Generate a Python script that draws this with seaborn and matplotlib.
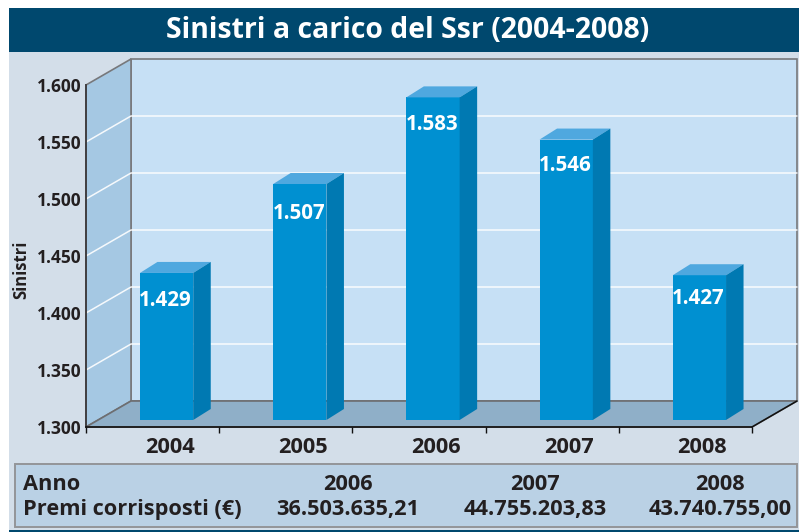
import pandas as pd
import seaborn as sns
import matplotlib.pyplot as plt
from matplotlib.patches import Polygon, Rectangle
from matplotlib.transforms import ScaledTranslation

# Data
anni = ["2004", "2005", "2006", "2007", "2008"]
sinistri = [1429, 1507, 1583, 1546, 1427]
etichette = ["1.429", "1.507", "1.583", "1.546", "1.427"]
y_ticks = [1300, 1350, 1400, 1450, 1500, 1550, 1600]
y_labels = ["1.300", "1.350", "1.400", "1.450", "1.500", "1.550", "1.600"]
tab_anni = ["2006", "2007", "2008"]
tab_premi = ["36.503.635,21", "44.755.203,83", "43.740.755,00"]

W, H = 799, 532
NAVY = "#00486e"
DARK = "#231f20"

sns.set_theme(style="white")
plt.rcParams["font.family"] = ["Open Sans", "DejaVu Sans"]
plt.rcParams["font.weight"] = "bold"

fig = plt.figure(figsize=(W / 100, H / 100), dpi=100, facecolor="white")


def axes_px(left, top, right, bottom):
    return fig.add_axes([left / W, 1 - bottom / H, (right - left) / W, (bottom - top) / H])


# background, panel and walls are drawn in pixel coordinates
bg = fig.add_axes([0, 0, 1, 1])
bg.set_xlim(0, W)
bg.set_ylim(H, 0)
bg.axis("off")
bg.add_patch(Rectangle((9, 8), W - 9, H - 8, fc="#d3dee9", ec="none"))
bg.add_patch(Rectangle((9, 8), W - 9, 44, fc=NAVY, ec="none"))
bg.add_patch(Rectangle((9, 530), W - 9, 2, fc=NAVY, ec="none"))
bg.text(408, 30, "Sinistri a carico del Ssr (2004-2008)", color="white", fontsize=20.4,
        ha="center", va="center", fontweight="bold")

X0, X1, Y0, Y1 = 86, 752, 427, 85
DX, DY = 45, -26
bg.add_patch(Polygon([(X0 + DX, Y1 + DY), (X1 + DX, Y1 + DY), (X1 + DX, Y0 + DY), (X0 + DX, Y0 + DY)],
                     fc="#c6e0f5", ec="#77787b", lw=1.2))
bg.add_patch(Polygon([(X0, Y1), (X0 + DX, Y1 + DY), (X0 + DX, Y0 + DY), (X0, Y0)],
                     fc="#a5c8e3", ec="#77787b", lw=1.2))
bg.add_patch(Polygon([(X0, Y0), (X0 + DX, Y0 + DY), (X1 + DX, Y0 + DY), (X1, Y0)],
                     fc="#8fafc8", ec="#6d6e71", lw=1.2))
bg.plot([X1, X1 + DX], [Y0, Y0 + DY], color="#111111", lw=1.1)

scala = (Y0 - Y1) / (y_ticks[-1] - y_ticks[0])
for v in y_ticks[1:-1]:
    yy = Y0 - (v - y_ticks[0]) * scala
    bg.plot([X0, X0 + DX, X1 + DX], [yy, yy + DY, yy + DY], color="white", lw=1.1, alpha=0.9)

# front plane with the axis lines and ticks
ax = axes_px(X0, Y1, X1, Y0)
ax.patch.set_alpha(0)
ax.set_ylim(y_ticks[0], y_ticks[-1])
ax.set_xlim(0, 5)
ax.set_yticks(y_ticks)
ax.set_yticklabels(y_labels, fontsize=12.5, color=DARK, fontweight="bold")
ax.set_xticks(range(6))
ax.set_xticklabels([])
ax.tick_params(axis="x", length=4.5, width=1, color="#111111", bottom=True)
ax.tick_params(axis="y", length=0, pad=3.5)
for side in ["top", "right"]:
    ax.spines[side].set_visible(False)
ax.spines["left"].set_color("#414042")
ax.spines["left"].set_linewidth(1.4)
ax.spines["bottom"].set_color("#111111")
ax.spines["bottom"].set_linewidth(1.2)

# bars stand halfway into the floor
df = pd.DataFrame({"anno": anni, "sinistri": sinistri})
ax_b = axes_px(X0 + 14, Y1 - 7, X1 + 14, Y0 - 7)
ax_b.patch.set_alpha(0)
sns.barplot(data=df, x="anno", y="sinistri", ax=ax_b, color="#0090d1", saturation=1, width=0.4,
            linewidth=0, edgecolor="none")
ax_b.set_ylim(y_ticks[0], y_ticks[-1])
ax_b.set_xlim(-0.5, 4.5)
ax_b.set_xlabel("")
ax_b.set_ylabel("")
ax_b.set_yticks([])
ax_b.tick_params(axis="x", length=0, pad=12, labelsize=15.7, labelcolor=DARK)
for side in ax_b.spines.values():
    side.set_visible(False)
shift = ScaledTranslation(3 / 100, 0, fig.dpi_scale_trans)
for lab in ax_b.get_xticklabels():
    lab.set_transform(lab.get_transform() + shift)
    lab.set_fontweight("bold")

# 3d faces of the bars, taken from the bar patches
bdx, bdy = 17.5, 11
cali = [28, 29, 27, 26, 23]
for bar, testo, cala in zip(ax_b.patches, etichette, cali):
    x0 = bar.get_x()
    x1 = x0 + bar.get_width()
    top = bar.get_height()
    p0 = ax_b.transData.transform((x0, top))
    p1 = ax_b.transData.transform((x1, top))
    p2 = ax_b.transData.transform((x1, y_ticks[0]))
    fig.add_artist(Polygon([p0, p1, (p1[0] + bdx, p1[1] + bdy), (p0[0] + bdx, p0[1] + bdy)],
                           transform=None, fc="#4fa8df", ec="none"))
    fig.add_artist(Polygon([p1, p2, (p2[0] + bdx, p2[1] + bdy), (p1[0] + bdx, p1[1] + bdy)],
                           transform=None, fc="#0079b2", ec="none"))
    ax_b.annotate(testo, (x0 + bar.get_width() / 2, top), xytext=(-1, -cala), textcoords="offset pixels",
                  color="white", fontsize=14.8, fontweight="bold", ha="center", va="center", zorder=5)

bg.text(21.5, 270, "Sinistri", rotation=90, color=DARK, fontsize=12, ha="center", va="center",
        fontweight="bold")

# table under the chart
bg.add_patch(Rectangle((15, 464), 782, 63, fc="#bad1e5", ec="#939598", lw=1.4))
bg.text(23, 485, "Anno", color=DARK, fontsize=15.7, ha="left", va="center", fontweight="bold")
bg.text(23, 510, "Premi corrisposti (€)", color=DARK, fontsize=15.7, ha="left", va="center", fontweight="bold")
for cx, a, p in zip([348, 535, 720], tab_anni, tab_premi):
    bg.text(cx, 485, a, color=DARK, fontsize=15.7, ha="center", va="center", fontweight="bold")
    bg.text(cx, 510, p, color=DARK, fontsize=15.7, ha="center", va="center", fontweight="bold")

fig.savefig("out.png", dpi=100)
